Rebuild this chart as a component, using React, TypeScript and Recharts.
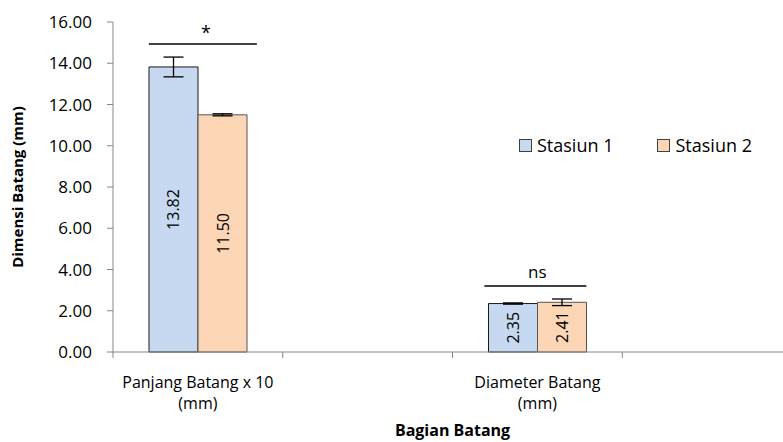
import React from "react";
import { BarChart, Bar, XAxis, YAxis, ErrorBar, LabelList, ReferenceLine, Label } from "recharts";

// ----------------------------- Data -----------------------------
const categories = ["Panjang Batang x 10\n(mm)", "", "Diameter Batang\n(mm)", ""];
const seriesNames = ["Stasiun 1", "Stasiun 2"];
const stasiun1 = [13.82, null, 2.35, null];
const stasiun2 = [11.5, null, 2.41, null];
const err1 = [0.48, null, 0.03, null];
const err2 = [0.05, null, 0.16, null];
const yTicks = [0, 2, 4, 6, 8, 10, 12, 14, 16];
// significance brackets: category, height, text
const sigMarks = [
  { key: "c0", y: 14.93, text: "*" },
  { key: "c2", y: 3.2, text: "ns" },
];

const FONT = "'Open Sans', 'Noto Sans', sans-serif";
const BLUE = "#C6D9F1";
const ORANGE = "#FCD5B5";
const AXIS = "#868686";
const CHART_W = 800;
const MARGIN = { top: 22, right: 8, bottom: 0, left: 0 };
const Y_W = 113;
const BAND = (CHART_W - MARGIN.right - MARGIN.left - Y_W) / categories.length;
const BAR = 49;

const data = categories.map((label, i) => ({
  key: `c${i}`,
  label,
  s1: stasiun1[i],
  s2: stasiun2[i],
  e1: err1[i],
  e2: err2[i],
}));

// category label + tick marks at the category boundaries (Excel style)
const CategoryTick = (props: any) => {
  const { x, y, index } = props;
  const lines = (categories[index] || "").split("\n");
  const left = x - BAND / 2;
  const right = x + BAND / 2;
  return (
    <g>
      <line x1={left} x2={left} y1={y} y2={y + 6} stroke={AXIS} />
      {index === categories.length - 1 && <line x1={right} x2={right} y1={y} y2={y + 6} stroke={AXIS} />}
      <text x={x} y={y} textAnchor="middle" fontSize={16} fontFamily={FONT} fill="#000">
        {lines.map((l, i) => (
          <tspan key={i} x={x} y={y + 36 + i * 21}>
            {l}
          </tspan>
        ))}
      </text>
    </g>
  );
};

const RotatedValue = (props: any) => {
  const { x, y, width, height, value } = props;
  if (value == null) return null;
  const cx = x + width / 2;
  const cy = y + height / 2;
  return (
    <text
      x={cx}
      y={cy}
      transform={`rotate(-90 ${cx} ${cy})`}
      textAnchor="middle"
      dominantBaseline="central"
      fontSize={16}
      fontFamily={FONT}
      fill="#000"
    >
      {Number(value).toFixed(2)}
    </text>
  );
};

const YTitle = (props: any) => {
  const vb = props.viewBox || { x: 0, y: 0, height: 0 };
  const cx = vb.x + 17;
  const cy = vb.y + vb.height / 2;
  return (
    <text
      x={cx}
      y={cy}
      transform={`rotate(-90 ${cx} ${cy})`}
      textAnchor="middle"
      dominantBaseline="central"
      fontSize={15}
      fontWeight="bold"
      fontFamily={FONT}
      fill="#000"
    >
      Dimensi  Batang (mm)
    </text>
  );
};

const makeBracket = (text: string) => (p: any) => {
  const cx = p.x1;
  const y = p.y1;
  const big = text === "*";
  return (
    <g>
      <line x1={cx - BAR - (big ? 0 : 4)} x2={cx + BAR + (big ? 10 : 0)} y1={y} y2={y} stroke="#000" strokeWidth={1.5} />
      <text
        x={cx + (big ? 8 : 0)}
        y={y - (big ? 5 : 8)}
        textAnchor="middle"
        fontSize={big ? 18 : 17}
        fontFamily={FONT}
        fill="#000"
      >
        {text}
      </text>
    </g>
  );
};

const LegendBox = () => (
  <div
    style={{
      position: "absolute",
      left: 519,
      top: 133,
      display: "flex",
      alignItems: "center",
      fontFamily: FONT,
      fontSize: 18,
      color: "#000",
      whiteSpace: "nowrap",
    }}
  >
    {seriesNames.map((name, i) => (
      <div key={name} style={{ display: "flex", alignItems: "center", marginRight: i === 0 ? 44 : 0 }}>
        <span
          style={{
            display: "inline-block",
            width: 11,
            height: 11,
            background: i === 0 ? BLUE : ORANGE,
            border: "1px solid #404040",
            marginRight: 5,
          }}
        />
        <span>{name}</span>
      </div>
    ))}
  </div>
);

export default function App() {
  return (
    <div style={{ position: "fixed", left: 0, top: 0, width: 783, height: 442, overflow: "hidden", background: "#fff" }}>
      <BarChart width={CHART_W} height={442} data={data} margin={MARGIN} barGap={0}>
        <XAxis
          dataKey="key"
          height={90}
          axisLine={{ stroke: AXIS }}
          tickLine={false}
          tickSize={0}
          tickMargin={0}
          tick={<CategoryTick />}
          interval={0}
        >
          <Label
            value="Bagian Batang"
            position="insideBottom"
            offset={6}
            style={{ fontFamily: FONT, fontSize: 16, fontWeight: "bold", fill: "#000" }}
          />
        </XAxis>
        <YAxis
          width={Y_W}
          domain={[0, 16]}
          ticks={yTicks}
          tickFormatter={(v: number) => v.toFixed(2)}
          tick={{ fontSize: 17, fontFamily: FONT, fill: "#000" }}
          tickSize={6}
          tickMargin={15}
          axisLine={{ stroke: AXIS }}
          tickLine={{ stroke: AXIS }}
          label={<YTitle />}
        />
        <Bar dataKey="s1" name={seriesNames[0]} fill={BLUE} stroke="#1a1a1a" barSize={BAR} isAnimationActive={false}>
          <ErrorBar dataKey="e1" width={10} stroke="#000" strokeWidth={1.3} direction="y" />
          <LabelList dataKey="s1" content={<RotatedValue />} />
        </Bar>
        <Bar dataKey="s2" name={seriesNames[1]} fill={ORANGE} stroke="#555" barSize={BAR} isAnimationActive={false}>
          <ErrorBar dataKey="e2" width={10} stroke="#000" strokeWidth={1.3} direction="y" />
          <LabelList dataKey="s2" content={<RotatedValue />} />
        </Bar>
        {sigMarks.map((m) => (
          <ReferenceLine
            key={m.key}
            segment={[
              { x: m.key, y: m.y },
              { x: m.key, y: m.y },
            ]}
            ifOverflow="visible"
            shape={makeBracket(m.text)}
          />
        ))}
      </BarChart>
      <LegendBox />
    </div>
  );
}
